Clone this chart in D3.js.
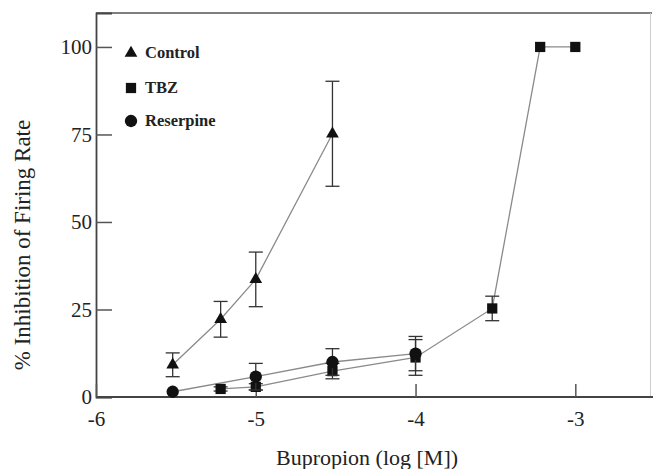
<!DOCTYPE html>
<html><head><meta charset="utf-8">
<script src="https://cdn.jsdelivr.net/npm/d3@7"></script>
<style>body{margin:0;background:#fff}svg{display:block}text{font-family:"Liberation Serif","Times New Roman",serif;fill:#222}</style>
</head><body><svg id="c" width="653" height="469"></svg>
<script>
// Data
const controlX = [-5.52, -5.22, -5.0, -4.52];
const controlY = [9.2, 22.2, 33.6, 75.2];
const controlErr = [3.4, 5.1, 7.8, 15.0];

const tbzX = [-5.22, -5.0, -4.52, -4.0, -3.52, -3.22, -3.0];
const tbzY = [2.3, 2.9, 7.4, 11.3, 25.3, 100, 100];
const tbzErr = [0.6, 0.9, 2.2, 5.1, 3.5, 0, 0];

const resX = [-5.52, -5.0, -4.52, -4.0];
const resY = [1.5, 5.8, 10.0, 12.4];
const resErr = [0.4, 3.8, 3.8, 4.9];

const xTicks = [-6, -5, -4, -3];
const yTicks = [0, 25, 50, 75, 100];
const legendLabels = ["Control", "TBZ", "Reserpine"];

const svg = d3.select("#c");
const x = d3.scaleLinear().domain([-6, -2.52]).range([96, 652]);
const y = d3.scaleLinear().domain([0, 109.7]).range([397, 13]);

// frame
svg.append("line").attr("x1",96).attr("x2",652).attr("y1",13).attr("y2",13).attr("stroke","#555").attr("stroke-width",1.5);
svg.append("line").attr("x1",650.5).attr("x2",650.5).attr("y1",13).attr("y2",397).attr("stroke","#ccc").attr("stroke-width",1);

// axes
const yAxis = d3.axisLeft(y).tickValues(yTicks).tickSize(-16).tickPadding(6).tickFormat(d3.format("d"));
const gy = svg.append("g").attr("transform","translate(96,0)").call(yAxis);
gy.select(".domain").attr("stroke","#444").attr("stroke-width",1.8);
gy.selectAll(".tick line").attr("stroke","#555").attr("stroke-width",1.5);
gy.selectAll(".tick text").attr("font-size",21).attr("fill","#222").attr("x",-4)
  .style("font-family",'"Liberation Serif",serif');

const xAxis = d3.axisBottom(x).tickValues(xTicks).tickSize(-13).tickPadding(14).tickFormat(d => d3.format("d")(d).replace("−","-"));
const gx = svg.append("g").attr("transform","translate(0,397)").call(xAxis);
gx.select(".domain").attr("stroke","#444").attr("stroke-width",1.8).attr("d","M96,0H653");
gx.selectAll(".tick line").attr("stroke","#555").attr("stroke-width",1.5);
gx.selectAll(".tick text").attr("font-size",21).attr("fill","#222")
  .style("font-family",'"Liberation Serif",serif');

// labels
svg.append("text").attr("x",367).attr("y",465).attr("text-anchor","middle").attr("font-size",22).text("Bupropion (log [M])");
svg.append("text").attr("transform","translate(30,245) rotate(-90)").attr("text-anchor","middle").attr("font-size",23).text("% Inhibition of Firing Rate");

// series
const series = [
  {xs: tbzX, ys: tbzY, es: tbzErr, sym: d3.symbolSquare, size: 105},
  {xs: resX, ys: resY, es: resErr, sym: d3.symbolCircle, size: 120},
  {xs: controlX, ys: controlY, es: controlErr, sym: d3.symbolTriangle, size: 70}
];
const line = d3.line().x(d => x(d[0])).y(d => y(d[1]));
series.forEach(s => {
  const pts = s.xs.map((v,i) => [v, s.ys[i], s.es[i]]);
  svg.append("path").attr("d", line(pts)).attr("fill","none").attr("stroke","#8a8a8a").attr("stroke-width",1.3);
});
series.forEach(s => {
  const pts = s.xs.map((v,i) => [v, s.ys[i], s.es[i]]);
  const eb = svg.append("g").attr("stroke","#333").attr("stroke-width",1.3);
  pts.filter(p => p[2] > 0.5).forEach(p => {
    const cx = x(p[0]), t = y(p[1]+p[2]), b = y(p[1]-p[2]);
    eb.append("line").attr("x1",cx).attr("x2",cx).attr("y1",t).attr("y2",b);
    eb.append("line").attr("x1",cx-7).attr("x2",cx+7).attr("y1",t).attr("y2",t);
    eb.append("line").attr("x1",cx-7).attr("x2",cx+7).attr("y1",b).attr("y2",b);
  });
  svg.append("g").selectAll("path").data(pts).join("path")
    .attr("transform", d => `translate(${x(d[0])},${y(d[1])})`)
    .attr("d", d3.symbol().type(s.sym).size(s.size)).attr("fill","#111");
});

// legend
const legSyms = [d3.symbolTriangle, d3.symbolSquare, d3.symbolCircle];
const legSizes = [70, 105, 120];
const legY = [53, 88, 121];
legendLabels.forEach((l,i) => {
  svg.append("path").attr("transform",`translate(131,${legY[i]})`).attr("d", d3.symbol().type(legSyms[i]).size(legSizes[i])).attr("fill","#111");
  svg.append("text").attr("x",145).attr("y",legY[i]+5).attr("font-size",16.5).attr("font-weight","bold").text(l);
});
</script></body></html>
